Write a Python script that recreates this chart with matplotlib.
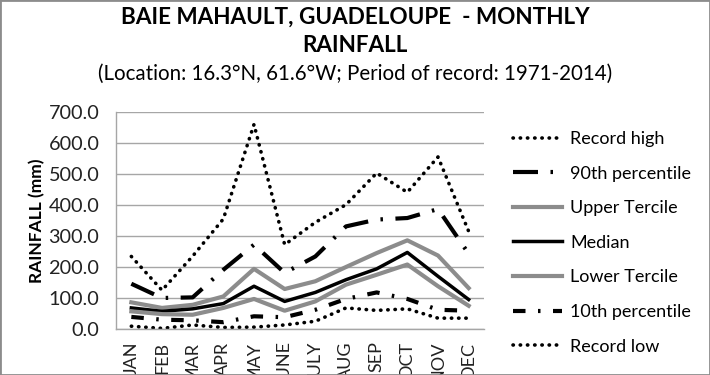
import matplotlib
matplotlib.use("Agg")
import matplotlib.pyplot as plt
from matplotlib.patches import Rectangle

plt.rcParams['font.family'] = ['Lato', 'DejaVu Sans']

# --- data (mm) ---
months = ['JAN', 'FEB', 'MAR', 'APR', 'MAY', 'JUNE', 'JULY', 'AUG', 'SEP', 'OCT', 'NOV', 'DEC']
record_high = [234, 125, 235, 355, 660, 272, 344, 401, 503, 441, 555, 315]
p90 = [146, 100, 102, 191, 272, 181, 234, 331, 353, 358, 387, 243]
upper_tercile = [86, 68, 78, 105, 194, 129, 154, 200, 245, 286, 237, 132]
median = [68, 57, 65, 82, 138, 89, 118, 159, 194, 247, 170, 95]
lower_tercile = [57, 48, 46, 68, 97, 59, 89, 143, 175, 208, 138, 75]
p10 = [39, 30, 28, 22, 41, 38, 62, 97, 118, 97, 62, 59]
record_low = [9, 2, 13, 5, 6, 13, 25, 68, 60, 65, 35, 35]

fig = plt.figure(figsize=(7.10, 3.75), dpi=100)
ax = fig.add_axes([116 / 710, 1 - 329 / 375, 368 / 710, 217 / 375])

x = range(len(months))
grey = '#8c8c8c'
ax.plot(x, record_high, color='black', lw=2.6, linestyle=(0, (0.1, 1.9)),
        dash_capstyle='round', label='Record high')
ax.plot(x, p90, color='black', lw=3, linestyle=(0, (6, 3, 0.6, 3)), label='90th percentile')
ax.plot(x, upper_tercile, color=grey, lw=3, label='Upper Tercile')
ax.plot(x, median, color='black', lw=2.5, label='Median')
ax.plot(x, lower_tercile, color=grey, lw=3, label='Lower Tercile')
ax.plot(x, p10, color='black', lw=3, linestyle=(0, (3, 3, 0.6, 3)), label='10th percentile')
ax.plot(x, record_low, color='black', lw=2.6, linestyle=(0, (0.1, 1.9)),
        dash_capstyle='round', label='Record low')

ax.set_xlim(-0.5, len(months) - 0.5)
ax.set_ylim(0, 700)
ax.set_yticks(range(0, 701, 100))
ax.set_yticklabels(['%.1f' % v for v in range(0, 701, 100)], fontsize=14.3, color='#222222')
ax.set_xticks(list(x))
ax.set_xticklabels(months, rotation=90, fontsize=13, color='#222222')
ax.tick_params(axis='y', length=0, pad=12)
ax.tick_params(axis='x', length=0, pad=9)
ax.grid(axis='y', color='#a6a6a6', lw=1)
ax.set_axisbelow(True)
for s in ['top', 'right']:
    ax.spines[s].set_visible(False)
for s in ['left', 'bottom']:
    ax.spines[s].set_color('#a6a6a6')
    ax.spines[s].set_linewidth(1)

ax.set_ylabel('RAINFALL (mm)', fontsize=12.5, fontweight='bold')
ax.yaxis.set_label_coords(-(116 - 45) / 368, 0.5)

fig.text(0.5, 1 - 17 / 375, 'BAIE MAHAULT, GUADELOUPE  - MONTHLY', ha='center', va='center',
         fontsize=16.2, fontweight='bold')
fig.text(0.5, 1 - 45 / 375, 'RAINFALL', ha='center', va='center', fontsize=16.2, fontweight='bold')
fig.text(0.5, 1 - 74 / 375, '(Location: 16.3°N, 61.6°W; Period of record: 1971-2014)',
         ha='center', va='center', fontsize=14.8)

fig.legend(loc='upper left', bbox_to_anchor=(513 / 710, 1 - 131 / 375), frameon=False,
           fontsize=13, handlelength=2.7, handletextpad=0.45, labelspacing=1.03,
           borderpad=0, borderaxespad=0)

fig.patches.append(Rectangle((0, 0), 1, 1, transform=fig.transFigure, fill=False,
                             edgecolor='#8c8c8c', lw=2))

fig.savefig('out.png', dpi=100)
